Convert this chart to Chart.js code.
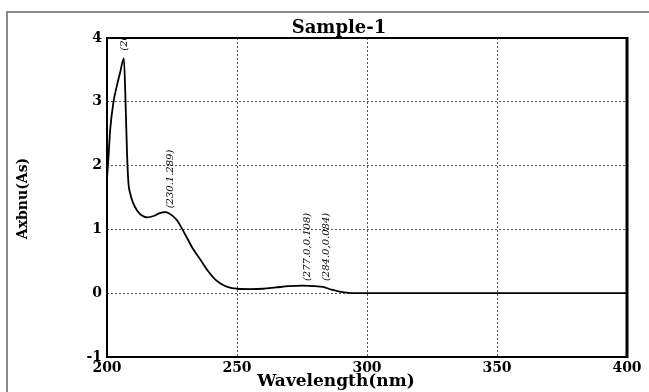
<!DOCTYPE html>
<html><head><meta charset="utf-8">
<script src="https://cdn.jsdelivr.net/npm/chart.js@4/dist/chart.umd.min.js"></script>
<style>html,body{margin:0;padding:0;background:#fff}#c{display:block}</style>
</head><body>
<canvas id="c" width="649" height="392"></canvas>
<script>
const wavelengths = [200,200.6,201.2,202.5,203.8,205,206.5,207.2,207.7,208.2,209,210,211.5,213,215.5,218,220,222.5,225,227,229,231,233,236,239,242,245,248,250,255,260,265,270,275,280,283,286,288,290,293,295,300,350,400];
const absorbance  = [1.8,2.15,2.55,3.0,3.25,3.45,3.68,2.9,2.2,1.75,1.55,1.42,1.3,1.23,1.19,1.21,1.25,1.27,1.22,1.14,1.0,0.85,0.7,0.52,0.34,0.2,0.12,0.08,0.07,0.065,0.07,0.09,0.11,0.12,0.11,0.1,0.06,0.04,0.02,0.005,0,0,0,0];
const xTicks = [200,250,300,350,400];
const yTicks = [-1,0,1,2,3,4];
const chartTitle = "Sample-1";
const xTitle = "Wavelength(nm)";
const yTitle = "Axbnu(As)";
const peakLabels = ["(206.0,3.690)","(230.1.289)","(277.0,0.108)","(284.0,0.084)"];
const peakX = [206.8,224.2,277.2,284.2];
const peakY = [3.8,1.33,0.19,0.19];

const SERIF = "'DejaVu Serif', 'Liberation Serif', serif";

const framePlugin = {
  id:'frame',
  beforeDraw(chart){
    const ctx = chart.ctx;
    ctx.save();
    ctx.fillStyle='#fff'; ctx.fillRect(0,0,chart.width,chart.height);
    ctx.strokeStyle='#888'; ctx.lineWidth=2;
    ctx.beginPath(); ctx.moveTo(7,392); ctx.lineTo(7,12); ctx.lineTo(649,12); ctx.stroke();
    ctx.restore();
  },
  afterDraw(chart){
    const ctx = chart.ctx, a = chart.chartArea;
    ctx.save();
    ctx.fillStyle='#000';
    ctx.textAlign='center'; ctx.textBaseline='middle';
    ctx.font = "bold 18px " + SERIF;
    ctx.fillText(chartTitle, 339, 28);
    ctx.font = "bold 17px " + SERIF;
    ctx.fillText(xTitle, 336, 382);
    ctx.translate(23, (a.top+a.bottom)/2 + 1);
    ctx.rotate(-Math.PI/2);
    ctx.font = "bold 14px " + SERIF;
    ctx.fillText(yTitle, 0, 0);
    ctx.restore();
  },
  afterDatasetsDraw(chart){
    const ctx = chart.ctx, a = chart.chartArea;
    const xs = chart.scales.x, ys = chart.scales.y;
    ctx.save();
    ctx.beginPath(); ctx.rect(a.left, a.top, a.right-a.left, a.bottom-a.top); ctx.clip();
    ctx.fillStyle='#000';
    ctx.font = "italic 10px " + SERIF;
    ctx.textBaseline='middle'; ctx.textAlign='left';
    peakLabels.forEach((t,i)=>{
      ctx.save();
      ctx.translate(xs.getPixelForValue(peakX[i]), ys.getPixelForValue(peakY[i]));
      ctx.rotate(-Math.PI/2);
      ctx.fillText(t,0,0);
      ctx.restore();
    });
    ctx.restore();
    ctx.save();
    ctx.strokeStyle='#000';
    ctx.lineWidth=2;
    ctx.beginPath(); ctx.moveTo(a.right, a.top); ctx.lineTo(a.left,a.top); ctx.lineTo(a.left,a.bottom); ctx.lineTo(a.right,a.bottom); ctx.stroke();
    ctx.lineWidth=3;
    ctx.beginPath(); ctx.moveTo(a.right, a.top-1); ctx.lineTo(a.right,a.bottom+1); ctx.stroke();
    ctx.restore();
  }
};

const gridColor = (ctx) => {
  const v = ctx.tick && ctx.tick.value;
  const sc = ctx.scale;
  if (v === sc.min || v === sc.max) return 'rgba(0,0,0,0)';
  return '#555';
};

new Chart(document.getElementById('c'), {
  type:'line',
  data:{ datasets:[{
    data: wavelengths.map((w,i)=>({x:w,y:absorbance[i]})),
    borderColor:'#000', borderWidth:1.8, pointRadius:0, fill:false,
    cubicInterpolationMode:'monotone'
  }]},
  options:{
    responsive:false, animation:false,
    layout:{padding:{left:0,right:22,top:38,bottom:0}},
    plugins:{ legend:{display:false}, tooltip:{enabled:false}, title:{display:false} },
    scales:{
      x:{type:'linear', min:200, max:400,
        afterBuildTicks(s){ s.ticks = xTicks.map(v=>({value:v})); },
        afterFit(s){ s.height = 35; },
        ticks:{color:'#000', font:{family:SERIF,size:14,weight:'bold'}, padding:3, maxRotation:0},
        grid:{color:gridColor, lineWidth:1, drawTicks:false},
        border:{display:false, dash:[2,2]}
      },
      y:{min:-1, max:4,
        afterBuildTicks(s){ s.ticks = yTicks.map(v=>({value:v})); },
        afterFit(s){ s.width = 107; },
        ticks:{color:'#000', font:{family:SERIF,size:14,weight:'bold'}, padding:5},
        grid:{color:gridColor, lineWidth:1, drawTicks:false},
        border:{display:false, dash:[2,2]}
      }
    }
  },
  plugins:[framePlugin]
});
</script>
</body></html>
